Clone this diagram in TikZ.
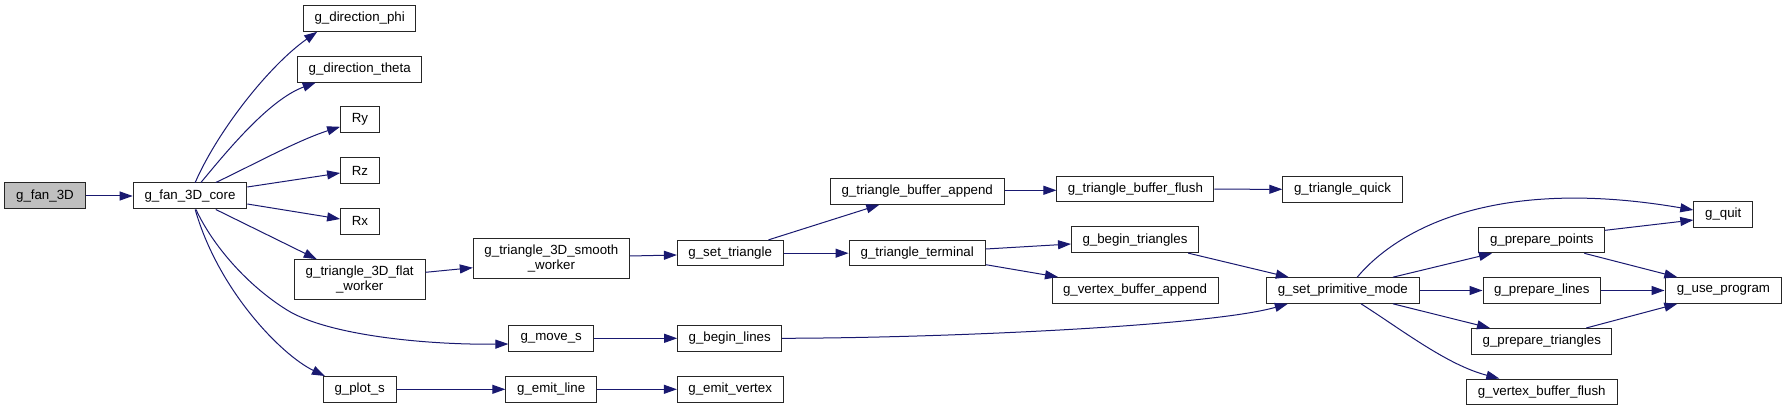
\documentclass[tikz,border=0pt]{standalone}
\usepackage{fontspec}
\setmainfont{Liberation Sans}
\usetikzlibrary{arrows.meta}
\definecolor{edgeblue}{HTML}{191970}
\definecolor{rootgray}{HTML}{BFBFBF}
\tikzset{
  fn/.style={draw=black!85, fill=white, line width=1pt, inner sep=0pt, align=center,
    font=\fontsize{13.3}{15}\selectfont, text=black},
  root/.style={fn, fill=rootgray},
  call/.style={draw=edgeblue, line width=1pt, -{Triangle[length=13pt,width=9pt]}},
}
\begin{document}
\begin{tikzpicture}[x=1pt,y=-1pt]
\useasboundingbox[fill=white] (0,0) rectangle (1787,411);
% nodes
\node[root, minimum width=80.7pt, minimum height=26pt] (fan) at (44.95,196) {g\_fan\_3D};
\node[fn, minimum width=113.6pt, minimum height=26pt] (core) at (190,196) {g\_fan\_3D\_core};
\node[fn, minimum width=112.5pt, minimum height=25.6pt] (phi) at (359.7,18.5) {g\_direction\_phi};
\node[fn, minimum width=124pt, minimum height=25.6pt] (theta) at (359.7,69.3) {g\_direction\_theta};
\node[fn, minimum width=38.6pt, minimum height=25.6pt] (Ry) at (359.9,119.8) {Ry};
\node[fn, minimum width=38.6pt, minimum height=25.6pt] (Rz) at (359.9,170.5) {Rz};
\node[fn, minimum width=38.6pt, minimum height=25.6pt] (Rx) at (359.9,221.3) {Rx};
\node[fn, minimum width=130.9pt, minimum height=40.3pt] (flat) at (359.7,279.8) {g\_triangle\_3D\_flat\\\_worker};
\node[fn, minimum width=156.2pt, minimum height=40pt] (smooth) at (551.4,258.7) {g\_triangle\_3D\_smooth\\\_worker};
\node[fn, minimum width=84.6pt, minimum height=25.6pt] (moves) at (551.2,338.3) {g\_move\_s};
\node[fn, minimum width=72.6pt, minimum height=25.6pt] (plots) at (359.7,389.3) {g\_plot\_s};
\node[fn, minimum width=90.7pt, minimum height=25.6pt] (emitline) at (551.2,389.3) {g\_emit\_line};
\node[fn, minimum width=105.6pt, minimum height=25.6pt] (settri) at (730.2,253.2) {g\_set\_triangle};
\node[fn, minimum width=173.8pt, minimum height=25.6pt] (tbappend) at (917.2,191.5) {g\_triangle\_buffer\_append};
\node[fn, minimum width=136.3pt, minimum height=25.6pt] (terminal) at (917.2,253.2) {g\_triangle\_terminal};
\node[fn, minimum width=156.9pt, minimum height=25.6pt] (tbflush) at (1135.4,189.2) {g\_triangle\_buffer\_flush};
\node[fn, minimum width=127pt, minimum height=25.6pt] (begintri) at (1135,239.8) {g\_begin\_triangles};
\node[fn, minimum width=166pt, minimum height=25.6pt] (vbappend) at (1135,290.3) {g\_vertex\_buffer\_append};
\node[fn, minimum width=104pt, minimum height=25.6pt] (beginlines) at (729.7,338.3) {g\_begin\_lines};
\node[fn, minimum width=105.6pt, minimum height=25.6pt] (emitvertex) at (730.2,389.3) {g\_emit\_vertex};
\node[fn, minimum width=119.4pt, minimum height=25.6pt] (quick) at (1342.5,189.3) {g\_triangle\_quick};
\node[fn, minimum width=58.8pt, minimum height=25.6pt] (quit) at (1723.2,214.5) {g\_quit};
\node[fn, minimum width=125.8pt, minimum height=25.6pt] (ppoints) at (1541.8,240) {g\_prepare\_points};
\node[fn, minimum width=152.4pt, minimum height=25.6pt] (spm) at (1342.8,290.5) {g\_set\_primitive\_mode};
\node[fn, minimum width=117.6pt, minimum height=25.6pt] (plines) at (1541.8,290.5) {g\_prepare\_lines};
\node[fn, minimum width=116.8pt, minimum height=25.6pt] (useprog) at (1723.4,290.5) {g\_use\_program};
\node[fn, minimum width=140pt, minimum height=25.6pt] (ptris) at (1541.8,341.3) {g\_prepare\_triangles};
\node[fn, minimum width=150.5pt, minimum height=25.6pt] (vbflush) at (1541.8,391.8) {g\_vertex\_buffer\_flush};
% edges
\draw[call] (fan.east) -- (core.west);
\draw[call] ([shift={(5.2,0)}]core.north) .. controls (218.1,130) and (269.8,65) .. ([shift={(-42.5,0)}]phi.south);
\draw[call] ([shift={(10.9,0)}]core.north) .. controls (223.9,155) and (268,100) .. ([shift={(-44,0)}]theta.south);
\draw[call] ([shift={(25.8,0)}]core.north) .. controls (252.6,165) and (298.5,140) .. ([shift={(0,7)}]Ry.west);
\draw[call] ([shift={(0,-9)}]core.east) -- ([shift={(0,2.5)}]Rz.west);
\draw[call] ([shift={(0,8)}]core.east) -- ([shift={(0,-2.3)}]Rx.west);
\draw[call] ([shift={(25.8,0)}]core.south) -- ([shift={(-43,0)}]flat.north);
\draw[call] ([shift={(6,0)}]core.south) .. controls (212.4,245) and (246.8,285) .. (287,310)
  .. controls (327.2,335) and (424.8,345) .. ([shift={(0,5.7)}]moves.west);
\draw[call] ([shift={(5.2,0)}]core.south) .. controls (218.1,290) and (281.3,355) .. ([shift={(-34.8,0)}]plots.north);
\draw[call] ([shift={(0,-7.5)}]flat.east) -- ([shift={(0,9)}]smooth.west);
\draw[call] ([shift={(0,-2.7)}]smooth.east) -- ([shift={(0,1.8)}]settri.west);
\draw[call] ([shift={(38.2,0)}]settri.north) -- ([shift={(-37.9,0)}]tbappend.south);
\draw[call] (settri.east) -- (terminal.west);
\draw[call] ([shift={(0,-1.2)}]tbappend.east) -- ([shift={(0,1.1)}]tbflush.west);
\draw[call] (tbflush.east) -- (quick.west);
\draw[call] ([shift={(0,-4.2)}]terminal.east) -- ([shift={(0,4.2)}]begintri.west);
\draw[call] ([shift={(0,11.5)}]terminal.east) -- ([shift={(-77,0)}]vbappend.north);
\draw[call] ([shift={(53.1,0)}]begintri.south) -- ([shift={(-54,0)}]spm.north);
\draw[call] (beginlines.east) .. controls (944.4,338) and (1210,326) .. ([shift={(-55,0)}]spm.south);
\draw[call] (moves.east) -- (beginlines.west);
\draw[call] (plots.east) -- (emitline.west);
\draw[call] (emitline.east) -- (emitvertex.west);
\draw[call] ([shift={(14.4,0)}]spm.north) .. controls (1395,232) and (1490,175) .. ([shift={(0,-4.5)}]quit.west);
\draw[call] ([shift={(50.1,0)}]spm.north) -- ([shift={(-49.8,0)}]ppoints.south);
\draw[call] (spm.east) -- (plines.west);
\draw[call] ([shift={(50.1,0)}]spm.south) -- ([shift={(-51.8,0)}]ptris.north);
\draw[call] ([shift={(18.2,0)}]spm.south) .. controls (1402.2,330) and (1447.1,365) .. ([shift={(-42.5,0)}]vbflush.north);
\draw[call] ([shift={(0,-9.7)}]ppoints.east) -- ([shift={(0,5.5)}]quit.west);
\draw[call] ([shift={(42.5,0)}]ppoints.south) -- ([shift={(-46.1,0)}]useprog.north);
\draw[call] (plines.east) -- (useprog.west);
\draw[call] ([shift={(44.4,0)}]ptris.north) -- ([shift={(-46.1,0)}]useprog.south);
\end{tikzpicture}
\end{document}
